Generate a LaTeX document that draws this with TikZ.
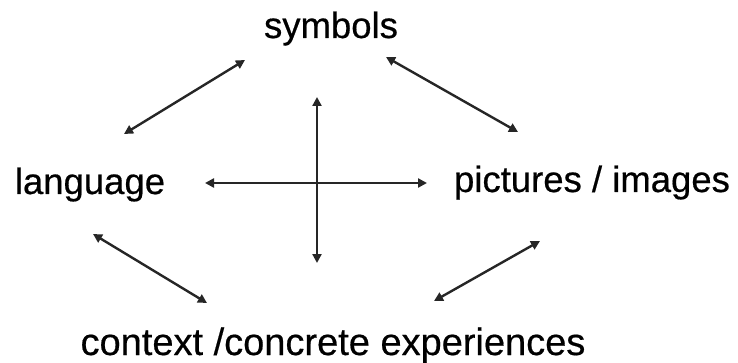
\documentclass[tikz,border=0pt]{standalone}
\usepackage{fontspec}
\setmainfont{Liberation Sans}
\newfontfamily\termfont[FakeBold=0.5]{Liberation Sans}
\usetikzlibrary{arrows.meta}

\begin{document}
\begin{tikzpicture}[
  x=1pt,y=-1pt,
  term/.style={anchor=base,inner sep=0pt,font=\fontsize{36.5}{40}\selectfont\termfont},
  arr/.style={{Triangle[length=9pt,width=9pt]}-{Triangle[length=9pt,width=9pt]},line width=2.4pt,color=black!85}
]
\useasboundingbox (0,0) rectangle (738,363);

% -------------------------
% Terms
% -------------------------
\node[term] (sym) at (331,38) {symbols};
\node[term] (lang) at (90,194) {language};
\node[term] (pic) at (592,192) {pictures / images};
\node[term,font=\fontsize{38}{42}\selectfont\termfont] (ctx) at (333,355) {context /concrete experiences};

% -------------------------
% Arrow ends
% -------------------------
\coordinate (sl) at (245,60);
\coordinate (ls) at (124,134);
\coordinate (sp) at (386,57);
\coordinate (ps) at (518,132);
\coordinate (lc) at (93,234);
\coordinate (cl) at (207,303);
\coordinate (pc) at (540,241);
\coordinate (cp) at (434,301);
\coordinate (hl) at (205,183);
\coordinate (hr) at (427,183);
\coordinate (vt) at (317,97);
\coordinate (vb) at (317,263);

% -------------------------
% Connectors
% -------------------------
\draw[arr] (sl) -- (ls);
\draw[arr] (sp) -- (ps);
\draw[arr] (lc) -- (cl);
\draw[arr] (pc) -- (cp);
\draw[arr] (hl) -- (hr);
\draw[arr] (vt) -- (vb);

\end{tikzpicture}
\end{document}
